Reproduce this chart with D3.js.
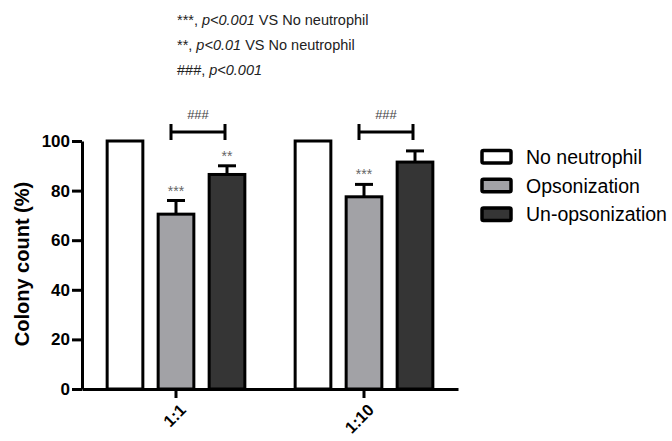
<!DOCTYPE html>
<html><head><meta charset="utf-8">
<script src="https://cdn.jsdelivr.net/npm/d3@7"></script>
<style>
html,body{margin:0;padding:0;background:#fff;}
svg{display:block;font-family:"Liberation Sans",Arial,sans-serif;}
</style></head>
<body>
<svg id="chart" width="672" height="441"></svg>
<script>
const groups = ["1:1", "1:10"];
const series = ["No neutrophil", "Opsonization", "Un-opsonization"];
const noNeutrophil = [100, 100];
const opsonization = [70.5, 77.5];
const unOpsonization = [86.5, 91.5];
const noNeutrophilErr = [0, 0];
const opsonizationErr = [5.5, 5];
const unOpsonizationErr = [3.5, 4.5];
const starLabels = [["", "***", "**"], ["", "***", ""]];
const bracketLabel = "###";
const yTicks = [0, 20, 40, 60, 80, 100];
const noteLines = [
  ["***, ", "p<0.001", " VS No neutrophil"],
  ["**, ", "p<0.01", " VS No neutrophil"],
  ["###, ", "p<0.001", ""]
];

const colors = ["#ffffff", "#a2a2a6", "#353535"];
const means = [noNeutrophil, opsonization, unOpsonization];
const errs = [noNeutrophilErr, opsonizationErr, unOpsonizationErr];

const svg = d3.select("#chart");
const x0 = d3.scaleBand().domain(groups).range([82, 458]).padding(0);
const x1 = d3.scaleBand().domain(series).range([94 - 76.5, 94 + 76.5]).paddingInner(0.3).paddingOuter(0.15);
const y = d3.scaleLinear().domain([0, 100]).range([389, 141]);

// notes at top
const notes = svg.append("g").attr("font-size", 14.5).attr("fill", "#222");
noteLines.forEach((parts, i) => {
  const t = notes.append("text").attr("x", 177).attr("y", 25 + i * 25);
  t.append("tspan").text(parts[0]);
  t.append("tspan").attr("font-style", "italic").text(parts[1]);
  if (parts[2]) t.append("tspan").text(parts[2]);
});

// bars
const data = [];
groups.forEach((g, gi) => series.forEach((s, si) => {
  data.push({g, s, si, gi, v: means[si][gi], e: errs[si][gi], star: starLabels[gi][si]});
}));

const barG = svg.append("g");
barG.selectAll("rect").data(data).join("rect")
  .attr("x", d => x0(d.g) + x1(d.s))
  .attr("y", d => y(d.v))
  .attr("width", x1.bandwidth())
  .attr("height", d => y(0) - y(d.v))
  .attr("fill", d => colors[d.si])
  .attr("stroke", "#000").attr("stroke-width", 3);

// error bars
const errData = data.filter(d => d.e > 0);
const capW = 18;
barG.selectAll("line.err").data(errData).join("line").attr("class", "err")
  .attr("x1", d => x0(d.g) + x1(d.s) + x1.bandwidth() / 2)
  .attr("x2", d => x0(d.g) + x1(d.s) + x1.bandwidth() / 2)
  .attr("y1", d => y(d.v)).attr("y2", d => y(d.v + d.e))
  .attr("stroke", "#000").attr("stroke-width", 3);
barG.selectAll("line.cap").data(errData).join("line").attr("class", "cap")
  .attr("x1", d => x0(d.g) + x1(d.s) + x1.bandwidth() / 2 - capW / 2)
  .attr("x2", d => x0(d.g) + x1(d.s) + x1.bandwidth() / 2 + capW / 2)
  .attr("y1", d => y(d.v + d.e)).attr("y2", d => y(d.v + d.e))
  .attr("stroke", "#000").attr("stroke-width", 3);

// stars
barG.selectAll("text.star").data(data.filter(d => d.star)).join("text").attr("class", "star")
  .attr("x", d => x0(d.g) + x1(d.s) + x1.bandwidth() / 2)
  .attr("y", d => y(d.v + d.e) - 5)
  .attr("text-anchor", "middle").attr("font-size", 14).attr("fill", "#666")
  .text(d => d.star);

// axes
const yAxis = svg.append("g").attr("transform", "translate(82,0)")
  .call(d3.axisLeft(y).tickValues(yTicks).tickSize(10).tickPadding(2).tickSizeOuter(0));
yAxis.select(".domain").attr("stroke-width", 3);
yAxis.selectAll(".tick line").attr("stroke-width", 3);
yAxis.selectAll(".tick text").attr("font-size", 17).attr("font-weight", "bold").attr("fill", "#000")
  .attr("font-family", "Liberation Sans, Arial, sans-serif");

const xAxis = svg.append("g").attr("transform", "translate(0,389)")
  .call(d3.axisBottom(x0).tickSize(9).tickSizeOuter(0).tickFormat(""));
xAxis.select(".domain").attr("stroke-width", 3);
xAxis.selectAll(".tick line").attr("stroke-width", 3);

svg.append("g").selectAll("text").data(groups).join("text")
  .attr("transform", d => `translate(${x0(d) + x0.bandwidth() / 2 + 7},${407}) rotate(-45)`)
  .attr("text-anchor", "end").attr("dy", "0.35em")
  .attr("font-size", 16.5).attr("font-weight", "bold").attr("fill", "#000")
  .text(d => d);

// y label
svg.append("text")
  .attr("transform", "translate(29,264) rotate(-90)")
  .attr("text-anchor", "middle")
  .attr("font-size", 20).attr("font-weight", "bold").attr("fill", "#000")
  .text("Colony count (%)");

// brackets
const bracketY = 132;
const br = svg.append("g");
groups.forEach(g => {
  const xa = x0(g) + x1(series[1]) + x1.bandwidth() / 2 - 5;
  const xb = x0(g) + x1(series[2]) + x1.bandwidth() / 2 - 2;
  br.append("path")
    .attr("d", `M${xa},${bracketY - 8}V${bracketY + 8}M${xa},${bracketY}H${xb}M${xb},${bracketY - 8}V${bracketY + 8}`)
    .attr("stroke", "#000").attr("stroke-width", 3).attr("fill", "none");
  br.append("text").attr("x", (xa + xb) / 2).attr("y", bracketY - 13)
    .attr("text-anchor", "middle").attr("font-size", 13).attr("fill", "#444")
    .text(bracketLabel);
});

// legend
const lg = svg.append("g");
series.forEach((s, i) => {
  lg.append("rect").attr("x", 482).attr("y", 150.5 + i * 28.7).attr("width", 29).attr("height", 12.5)
    .attr("fill", colors[i]).attr("stroke", "#000").attr("stroke-width", 3.5).attr("rx", 1.5);
  lg.append("text").attr("x", 526).attr("y", 157 + i * 28.7).attr("dy", "0.35em")
    .attr("font-size", 19.5).attr("fill", "#000").text(s);
});
</script>
</body></html>
